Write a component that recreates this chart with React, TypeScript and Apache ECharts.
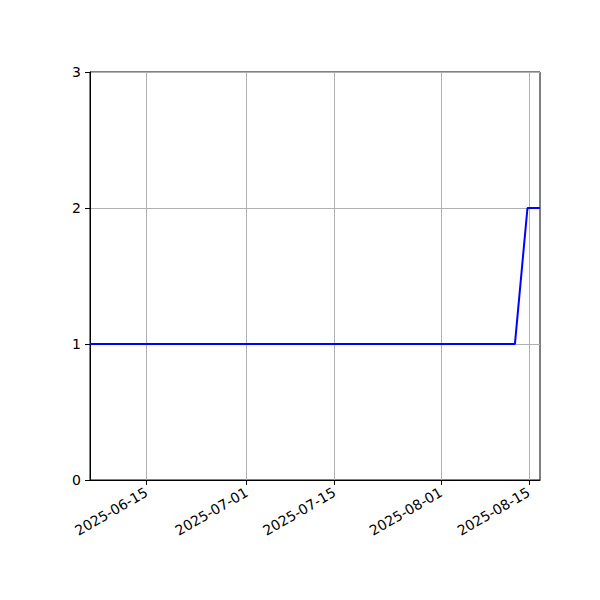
import { useEffect, useRef } from 'react';
import * as echarts from 'echarts';

// dates of the samples and their values
const dates = ['2025-06-06T00:00:00', '2025-08-12T19:00:00', '2025-08-14T19:00:00', '2025-08-16T19:00:00'];
const values = [1, 1, 2, 2];
const xTicks = ['2025-06-15', '2025-07-01', '2025-07-15', '2025-08-01', '2025-08-15'];
const yTicks = [0, 1, 2, 3];

const ts = (s: string) => new Date(s.length === 10 ? s + 'T00:00:00' : s).getTime();
const pad = (n: number) => (n < 10 ? '0' + n : '' + n);

const App = () => {
  const chartRef = useRef<HTMLDivElement>(null);

  useEffect(() => {
    if (!chartRef.current) return;
    const chart = echarts.init(chartRef.current, null, { renderer: 'svg' });
    const tickValues = xTicks.map(ts);
    const font = { fontFamily: 'DejaVu Sans', fontSize: 14, color: '#000' };

    chart.setOption({
      animation: false,
      grid: { left: 90, right: 60, top: 72, bottom: 120, show: true, borderColor: '#000', borderWidth: 1 },
      xAxis: {
        type: 'value',
        min: ts(dates[0]),
        max: ts(dates[dates.length - 1]),
        axisLine: { show: true, lineStyle: { color: '#000' } },
        axisTick: { show: true, length: 5, customValues: tickValues, lineStyle: { color: '#000' } },
        axisLabel: {
          ...font,
          rotate: 30,
          margin: 11,
          customValues: tickValues,
          formatter: (v: number) => {
            const d = new Date(v);
            return `${d.getFullYear()}-${pad(d.getMonth() + 1)}-${pad(d.getDate())}`;
          }
        },
        splitLine: { show: true, lineStyle: { color: '#b0b0b0', width: 1 } }
      },
      yAxis: {
        type: 'value',
        min: yTicks[0],
        max: yTicks[yTicks.length - 1],
        interval: 1,
        axisLine: { show: true, lineStyle: { color: '#000' } },
        axisTick: { show: true, length: 5, lineStyle: { color: '#000' } },
        axisLabel: { ...font, margin: 9 },
        splitLine: { show: true, lineStyle: { color: '#b0b0b0', width: 1 } }
      },
      series: [
        {
          type: 'line',
          data: dates.map((d, i) => [ts(d), values[i]]),
          showSymbol: false,
          lineStyle: { color: '#0000ff', width: 2 },
          itemStyle: { color: '#0000ff' }
        }
      ]
    });

    return () => {
      chart.dispose();
    };
  }, []);

  return <div ref={chartRef} style={{ width: 600, height: 600, margin: -8 }} />;
};

export default App;
